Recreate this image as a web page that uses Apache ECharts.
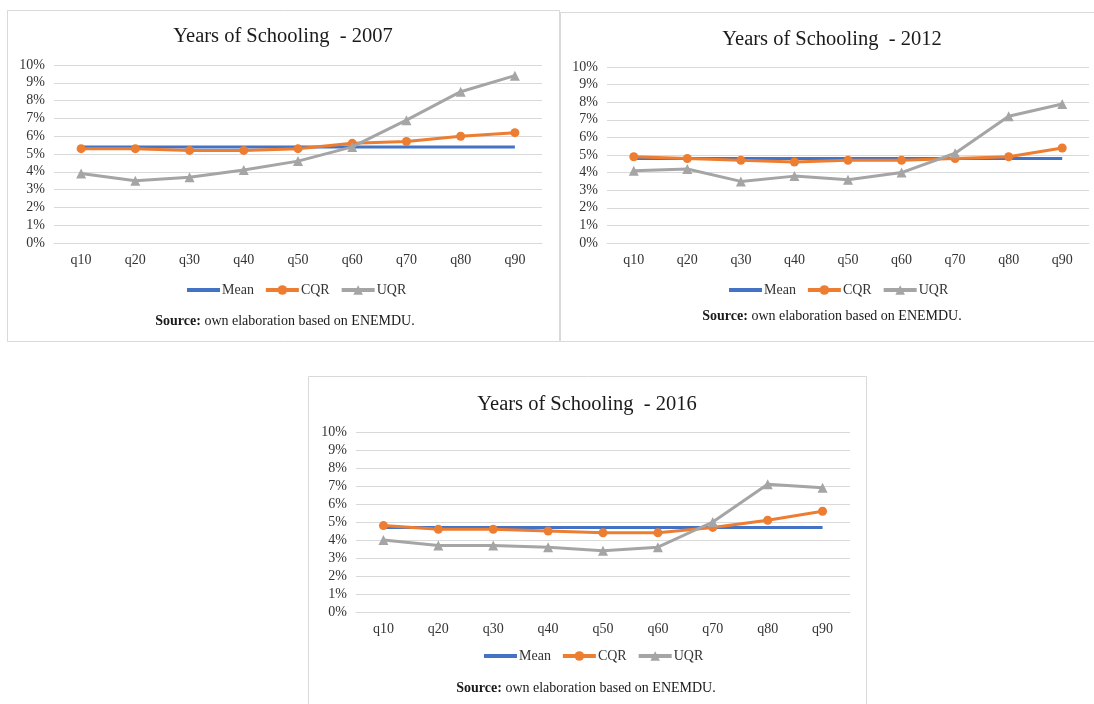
<!DOCTYPE html>
<html>
<head>
<meta charset="utf-8">
<script src="https://cdn.jsdelivr.net/npm/echarts@6/dist/echarts.min.js"></script>
<style>
html,body{margin:0;padding:0;background:#fff;}
#chart{width:1094px;height:704px;}
</style>
</head>
<body>
<div id="chart"></div>
<script>
const categories = ['q10','q20','q30','q40','q50','q60','q70','q80','q90'];
const yTicks = [0,1,2,3,4,5,6,7,8,9,10];

const years = ['2007','2012','2016'];
const mean2007 = [5.4,5.4,5.4,5.4,5.4,5.4,5.4,5.4,5.4];
const cqr2007  = [5.3,5.3,5.2,5.2,5.3,5.6,5.7,6.0,6.2];
const uqr2007  = [3.9,3.5,3.7,4.1,4.6,5.4,6.9,8.5,9.4];

const mean2012 = [4.8,4.8,4.8,4.8,4.8,4.8,4.8,4.8,4.8];
const cqr2012  = [4.9,4.8,4.7,4.6,4.7,4.7,4.8,4.9,5.4];
const uqr2012  = [4.1,4.2,3.5,3.8,3.6,4.0,5.1,7.2,7.9];

const mean2016 = [4.7,4.7,4.7,4.7,4.7,4.7,4.7,4.7,4.7];
const cqr2016  = [4.8,4.6,4.6,4.5,4.4,4.4,4.7,5.1,5.6];
const uqr2016  = [4.0,3.7,3.7,3.6,3.4,3.6,5.0,7.1,6.9];

const seriesNames = ['Mean','CQR','UQR'];
const sourceText = '{b|Source:} own elaboration based on ENEMDU.';

const FONT = '"Liberation Serif","Times New Roman",serif';
const BLUE = '#4472C4', ORANGE = '#ED7D31', GRAY = '#A5A5A5';
const TXT = '#333333';

const panels = [
  {data:[mean2007,cqr2007,uqr2007], grid:{left:54, top:65, width:488, height:178},
   box:{x:7.5,y:10.5,w:552,h:331}, titleX:283, titleY:37, legendLeft:185, legendTop:283, srcX:285, srcY:321},
  {data:[mean2012,cqr2012,uqr2012], grid:{left:607, top:67, width:482, height:176},
   box:{x:560.5,y:12.5,w:545,h:329}, titleX:832, titleY:40, legendLeft:727, legendTop:283, srcX:832, srcY:316},
  {data:[mean2016,cqr2016,uqr2016], grid:{left:356, top:432, width:494, height:180},
   box:{x:308.5,y:376.5,w:558,h:340}, titleX:587, titleY:405, legendLeft:482, legendTop:649, srcX:586, srcY:688}
];

const grid = [], xAxis = [], yAxis = [], series = [], legend = [], graphic = [];

panels.forEach((p, i) => {
  grid.push(Object.assign({containLabel:false}, p.grid));
  xAxis.push({
    type:'category', gridIndex:i, data:categories, boundaryGap:true,
    axisLine:{show:true, lineStyle:{color:'#d9d9d9', width:1}},
    axisTick:{show:false},
    axisLabel:{color:TXT, fontFamily:FONT, fontSize:14, margin:10}
  });
  yAxis.push({
    type:'value', gridIndex:i, min:yTicks[0], max:yTicks[yTicks.length-1], interval:1,
    axisLine:{show:false}, axisTick:{show:false},
    splitLine:{lineStyle:{color:'#d9d9d9', width:1}},
    axisLabel:{color:TXT, fontFamily:FONT, fontSize:14, margin:9, formatter:'{value}%'}
  });
  series.push({
    name:seriesNames[0], type:'line', xAxisIndex:i, yAxisIndex:i, data:p.data[0],
    symbol:'none', lineStyle:{color:BLUE, width:3}, itemStyle:{color:BLUE}, z:2
  });
  series.push({
    name:seriesNames[1], type:'line', xAxisIndex:i, yAxisIndex:i, data:p.data[1],
    symbol:'circle', symbolSize:9, lineStyle:{color:ORANGE, width:3}, itemStyle:{color:ORANGE}, z:3
  });
  series.push({
    name:seriesNames[2], type:'line', xAxisIndex:i, yAxisIndex:i, data:p.data[2],
    symbol:'triangle', symbolSize:10, lineStyle:{color:GRAY, width:3}, itemStyle:{color:GRAY}, z:4
  });
  legend.push({
    data:[{name:seriesNames[0], itemStyle:{opacity:0}}, seriesNames[1], seriesNames[2]],
    left:p.legendLeft, top:p.legendTop, padding:0,
    itemWidth:33, itemHeight:12, itemGap:10,
    lineStyle:{width:4},
    textStyle:{color:TXT, fontFamily:FONT, fontSize:14, padding:[0,0,0,-3]}
  });
  graphic.push({
    type:'rect', shape:{x:p.box.x, y:p.box.y, width:p.box.w, height:p.box.h},
    style:{fill:'none', stroke:'#d9d9d9', lineWidth:1}, silent:true
  });
  graphic.push({
    type:'text', x:p.titleX, y:p.titleY, silent:true,
    style:{text:'Years of Schooling  - ' + years[i], fill:'#1a1a1a',
      font:'20.5px ' + FONT, align:'center', verticalAlign:'middle'}
  });
  graphic.push({
    type:'text', x:p.srcX, y:p.srcY, silent:true,
    style:{text:sourceText, fill:'#1a1a1a', fontSize:14, fontFamily:FONT,
      align:'center', verticalAlign:'middle',
      rich:{b:{fontWeight:'bold', fontSize:14, fontFamily:FONT, fill:'#1a1a1a'}}}
  });
});

const chart = echarts.init(document.getElementById('chart'), null, {renderer:'canvas'});
chart.setOption({
  animation:false,
  backgroundColor:'#fff',
  grid, xAxis, yAxis, series, legend, graphic
});
</script>
</body>
</html>
